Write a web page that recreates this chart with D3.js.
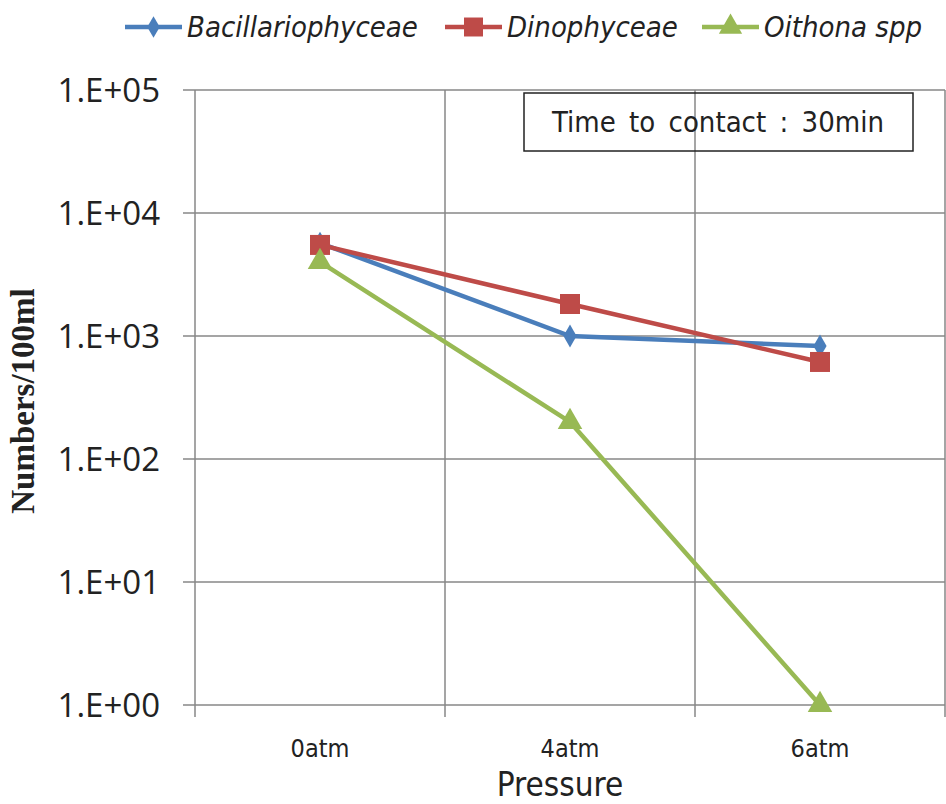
<!DOCTYPE html>
<meta charset="utf-8">
<script src="https://d3js.org/d3.v7.min.js"></script>
<style>
  body { margin: 0; background: #fff; }
</style>
<svg id="chart" width="946" height="804"></svg>
<script>

  // data
  const categories = ["0atm", "4atm", "6atm"];
  const bacillariophyceae = [5700, 1000, 830];
  const dinophyceae = [5500, 1820, 615];
  const oithona = [4000, 200, 1];
  const yTicks = [1, 10, 100, 1000, 10000, 100000];
  const yTickLabels = ["1.E+00", "1.E+01", "1.E+02", "1.E+03", "1.E+04", "1.E+05"];

  const series = [
    { name: "Bacillariophyceae", values: bacillariophyceae, color: "#4a7ebb", symbol: d3.symbolDiamond, size: 150 },
    { name: "Dinophyceae", values: dinophyceae, color: "#be4b48", symbol: d3.symbolSquare, size: 400 },
    { name: "Oithona spp", values: oithona, color: "#98b954", symbol: d3.symbolTriangle, size: 260 }
  ];

  const narrow = "'DejaVu Sans Condensed', 'Liberation Sans Narrow', 'Roboto Condensed', sans-serif";

  const svg = d3.select("#chart");
  const margin = { left: 195, right: 945, top: 90, bottom: 705 };

  const x = d3.scaleBand()
    .domain(categories)
    .range([margin.left, margin.right]);

  const y = d3.scaleLog()
    .domain([1, 100000])
    .range([margin.bottom, margin.top]);

  // grid
  const grid = svg.append("g").attr("stroke", "#878787").attr("stroke-width", 1.5);
  grid.selectAll("line.h")
    .data(yTicks)
    .join("line")
      .attr("x1", margin.left - 12)
      .attr("x2", margin.right)
      .attr("y1", d => y(d))
      .attr("y2", d => y(d));
  grid.selectAll("line.v")
    .data(categories.map(c => x(c) + x.bandwidth()).concat([margin.left]))
    .join("line")
      .attr("x1", d => d)
      .attr("x2", d => d)
      .attr("y1", margin.top)
      .attr("y2", margin.bottom + 12);

  // y tick labels
  svg.append("g")
    .selectAll("text")
    .data(yTicks)
    .join("text")
      .attr("x", 160)
      .attr("y", d => y(d))
      .attr("dy", "0.36em")
      .attr("text-anchor", "end")
      .style("font-family", "'Open Sans', sans-serif")
      .style("font-size", "33px")
      .style("fill", "#222")
      .text((d, i) => yTickLabels[i]);

  // x tick labels
  svg.append("g")
    .selectAll("text")
    .data(categories)
    .join("text")
      .attr("x", d => x(d) + x.bandwidth() / 2)
      .attr("y", 757)
      .attr("text-anchor", "middle")
      .style("font-family", narrow)
      .style("font-size", "25px")
      .style("fill", "#222")
      .text(d => d);

  // axis titles
  svg.append("text")
    .attr("x", 560)
    .attr("y", 796)
    .attr("text-anchor", "middle")
    .style("font-family", narrow)
    .style("font-size", "33px")
    .style("fill", "#222")
    .text("Pressure");

  svg.append("text")
    .attr("transform", "translate(34,401) rotate(-90)")
    .attr("text-anchor", "middle")
    .style("font-family", "'Liberation Serif', serif")
    .style("font-weight", "bold")
    .style("font-size", "33px")
    .style("fill", "#222")
    .text("Numbers/100ml");

  // annotation box
  svg.append("rect")
    .attr("x", 524)
    .attr("y", 93)
    .attr("width", 389)
    .attr("height", 58)
    .attr("fill", "none")
    .attr("stroke", "#222")
    .attr("stroke-width", 1.5);
  svg.append("text")
    .attr("x", 718)
    .attr("y", 122)
    .attr("dy", "0.36em")
    .attr("text-anchor", "middle")
    .style("font-family", narrow)
    .style("font-size", "29px")
    .style("fill", "#222")
    .style("word-spacing", "5px")
    .text("Time to contact : 30min");

  // lines and markers
  const line = d3.line()
    .x((d, i) => x(categories[i]) + x.bandwidth() / 2)
    .y(d => y(d));

  series.forEach(s => {
    svg.append("path")
      .datum(s.values)
      .attr("d", line)
      .attr("fill", "none")
      .attr("stroke", s.color)
      .attr("stroke-width", 4.5);
    svg.append("g")
      .selectAll("path")
      .data(s.values)
      .join("path")
        .attr("transform", (d, i) => `translate(${x(categories[i]) + x.bandwidth() / 2},${y(d)})`)
        .attr("d", d3.symbol().type(s.symbol).size(s.size))
        .attr("fill", s.color);
  });

  // legend
  const legendX = [125, 445, 702];
  const legend = svg.append("g")
    .selectAll("g")
    .data(series)
    .join("g")
      .attr("transform", (d, i) => `translate(${legendX[i]},27)`);
  legend.append("line")
    .attr("x1", 0).attr("x2", 57)
    .attr("stroke", d => d.color)
    .attr("stroke-width", 4.5);
  legend.append("path")
    .attr("transform", "translate(28.5,0)")
    .attr("d", d => d3.symbol().type(d.symbol).size(d.size * 0.9)())
    .attr("fill", d => d.color);
  legend.append("text")
    .attr("x", 62)
    .attr("dy", "0.36em")
    .style("font-family", narrow)
    .style("font-style", "italic")
    .style("font-size", "29px")
    .style("fill", "#222")
    .text(d => d.name);

</script>
